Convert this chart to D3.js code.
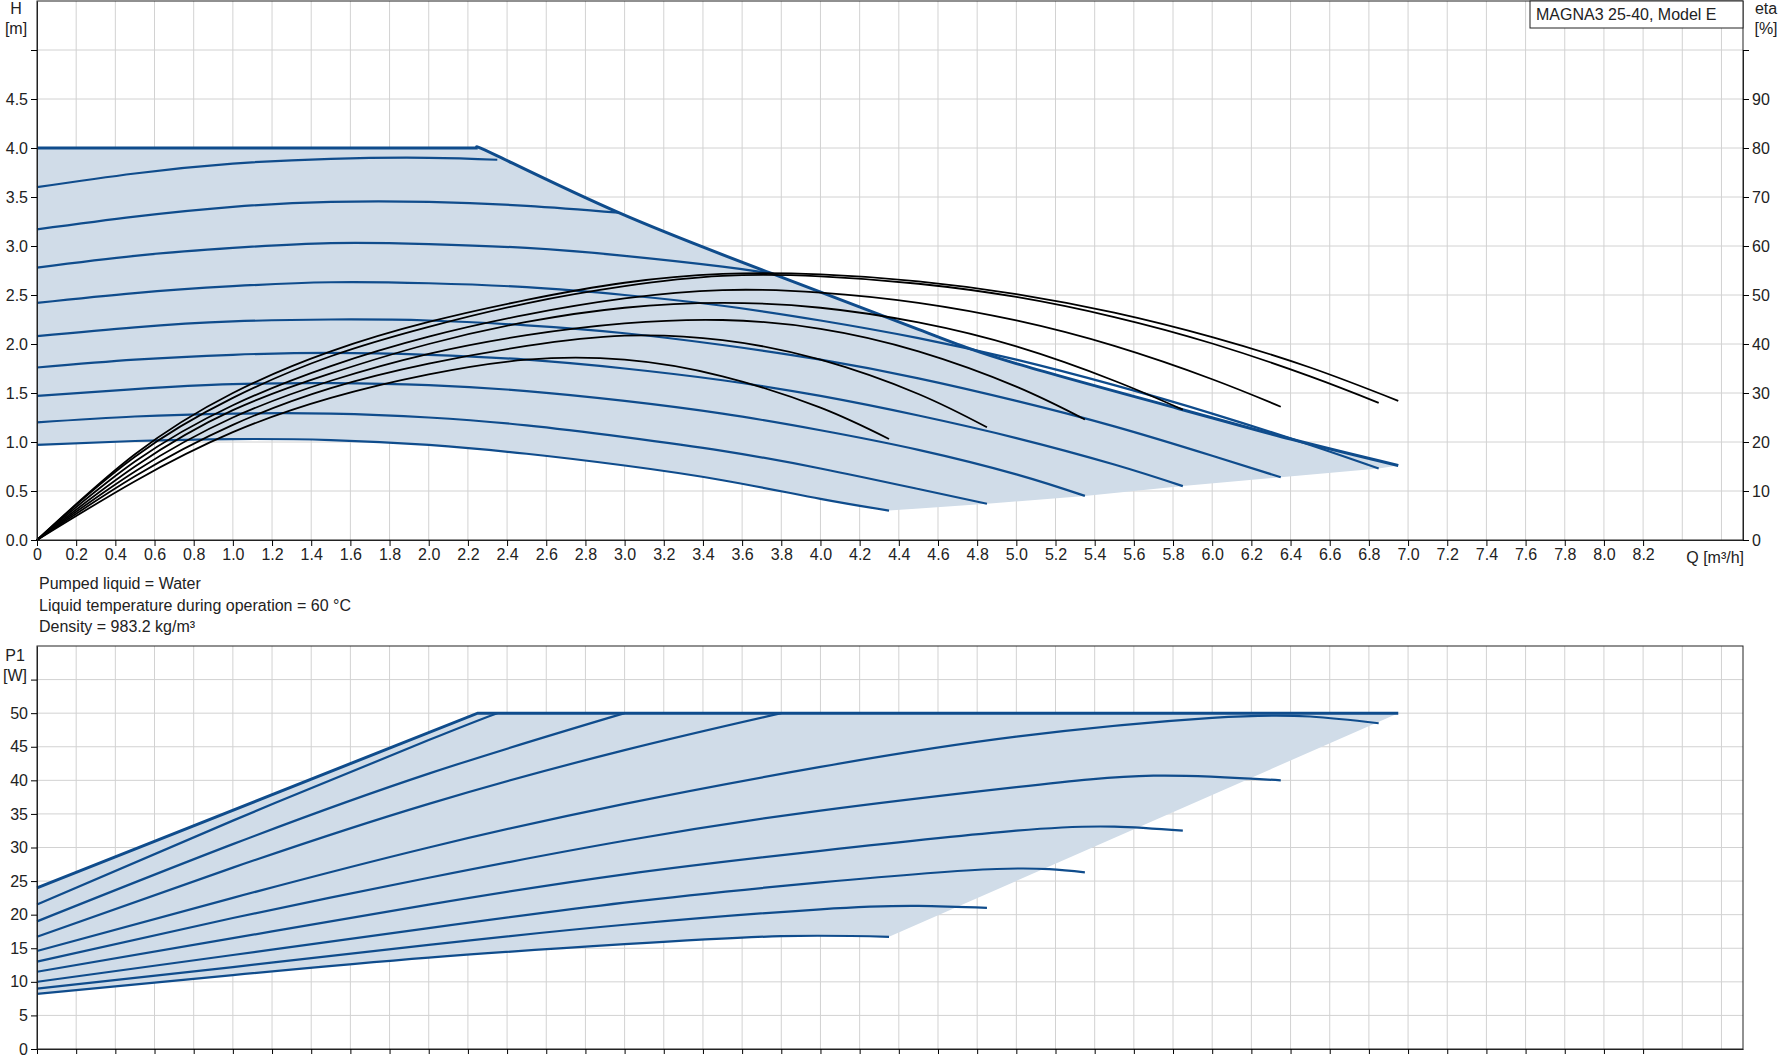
<!DOCTYPE html>
<html><head><meta charset="utf-8">
<script src="https://cdn.jsdelivr.net/npm/d3@7"></script>
<style>body{margin:0;background:#fff;font-family:Arial,"Liberation Sans",sans-serif;}</style>
</head><body><svg id="c" width="1778" height="1061"></svg>
<script>
// Q values [m3/h] and head [m] of the speed curves
var qTop = [0, 2.25], hTop = [4.0, 4.0];
var speedQ = [
  [0,0.5,1,1.5,2,2.35],
  [0,0.5,1,1.5,2,2.5,2.97],
  [0,0.5,1,1.5,2,2.5,3,3.5,3.75],
  [0,0.5,1,1.5,2,2.5,3,3.5,4,4.5,5,5.5,6,6.5,6.85],
  [0,0.5,1,1.5,2,2.5,3,3.5,4,4.5,5,5.5,6,6.35],
  [0,0.5,1,1.5,2,2.5,3,3.5,4,4.5,5,5.5,5.85],
  [0,0.5,1,1.5,2,2.5,3,3.5,4,4.5,5,5.35],
  [0,0.5,1,1.5,2,2.5,3,3.5,4,4.5,4.85],
  [0,0.5,1,1.5,2,2.5,3,3.5,4,4.35]
];
var speedH = [
  [3.6,3.74,3.84,3.89,3.9,3.88],
  [3.17,3.3,3.4,3.45,3.45,3.41,3.34],
  [2.78,2.9,2.98,3.03,3.02,2.98,2.9,2.79,2.72],
  [2.42,2.52,2.59,2.63,2.62,2.58,2.5,2.39,2.24,2.06,1.84,1.58,1.29,0.97,0.73],
  [2.08,2.17,2.23,2.25,2.24,2.19,2.11,1.99,1.84,1.65,1.42,1.16,0.86,0.64],
  [1.76,1.84,1.89,1.91,1.89,1.84,1.75,1.63,1.47,1.27,1.04,0.77,0.55],
  [1.47,1.54,1.59,1.6,1.58,1.52,1.42,1.29,1.12,0.92,0.67,0.45],
  [1.2,1.26,1.29,1.29,1.25,1.17,1.05,0.91,0.73,0.52,0.37],
  [0.97,1.01,1.03,1.02,0.97,0.88,0.76,0.61,0.42,0.30]
];
// max-power limit line
var envQ = [2.25,2.35,2.97,3.75,4.5,5.0,5.83,6.4,6.95];
var envH = [4.0,3.92,3.34,2.72,2.15,1.8,1.34,1.03,0.76];
// efficiency curves [%]
var etaQ = [
  [0,0.5,1,1.5,2,2.5,3,3.5,4,4.35],
  [0,0.5,1,1.5,2,2.5,3,3.5,4,4.5,4.85],
  [0,0.5,1,1.5,2,2.5,3,3.5,4,4.5,5,5.35],
  [0,0.5,1,1.5,2,2.5,3,3.5,4,4.5,5,5.5,5.85],
  [0,0.5,1,1.5,2,2.5,3,3.5,4,4.5,5,5.5,6,6.35],
  [0,0.5,1,1.5,2,2.5,3,3.5,4,4.5,5,5.5,6,6.5,6.85],
  [0,0.5,1,1.5,2,2.5,3,3.5,4,4.5,5,5.5,6,6.5,6.95]
];
var etaV = [
  [0,12,22,29,33.8,36.8,36.8,33.4,27,20.6],
  [0,13,23.5,31,36,39.6,41.7,40.8,36.8,29.8,23],
  [0,14,25,32.5,38,41.8,44.2,44.9,43.1,38.5,31.3,24.6],
  [0,15,26.5,34,40,44.5,47.4,48.4,47.4,44.4,39.5,32.5,26.6],
  [0,16,27.5,35.5,41.5,46,49.3,51,50.5,48.4,44.8,39.6,32.8,27.2],
  [0,17,29,37.5,43.5,48.3,51.8,53.9,53.8,52.3,49.6,45.5,40.1,33.4,28],
  [0,17.5,30,38.5,44.5,49,52.5,54.3,54.2,52.8,50.2,46.4,41.4,35.2,28.4]
];
// power P1 [W]
var pTopQ = [0,2.25,6.95], pTopV = [24,50,50];
var powQ = [
  [0,1,2,2.35],
  [0,1,2,3],
  [0,1,2,3,3.8],
  [0,1,2,3,4,5,6,6.5,6.85],
  [0,1,2,3,4,5,5.7,6.35],
  [0,1,2,3,4,5,5.5,5.85],
  [0,1,2,3,4,4.9,5.35],
  [0,1,2,3,4,4.5,4.85],
  [0,1,2,3,3.8,4.35]
];
var powV = [
  [21.5,34,46,50],
  [19,30.5,41,50],
  [16.7,27,36.5,44.5,50],
  [14.6,22.5,30,36.5,42,46.5,49.3,49.5,48.5],
  [13,19.5,25.5,31,35.5,39,40.7,40],
  [11.5,16.5,21.5,26,29.5,32.5,33.1,32.5],
  [10,14,18,21.8,24.8,26.8,26.3],
  [9,12.2,15.5,18.5,20.8,21.3,21],
  [8.2,11,13.6,15.6,16.8,16.7]
];
var xTicks = d3.range(0, 8.21, 0.2);
var hTicks = [0,0.5,1,1.5,2,2.5,3,3.5,4,4.5,5];
var etaTicks = [0,10,20,30,40,50,60,70,80,90,100];
var pTicks = [0,5,10,15,20,25,30,35,40,45,50,55];
var notes = ["Pumped liquid = Water","Liquid temperature during operation = 60 °C","Density = 983.2 kg/m³"];

var blue = "#0f4c8c", fill = "#d0dce8", grid = "#d2d2d2";
var svg = d3.select("#c");
var L = 37, R = 1743;
var x = d3.scaleLinear().domain([0, 8.71]).range([L, R]);
var yH = d3.scaleLinear().domain([0, 5.5]).range([540, 1]);
var yP = d3.scaleLinear().domain([0, 60]).range([1049, 646]);
var font = "Arial, 'Liberation Sans', sans-serif";

function frame(y, yt, top, bottom) {
  var g = svg.append("g");
  g.selectAll(".vg").data(xTicks.slice(1).concat([8.4,8.6])).enter().append("line")
    .attr("x1", d => x(d)).attr("x2", d => x(d)).attr("y1", top).attr("y2", bottom)
    .attr("stroke", grid).attr("stroke-width", 1);
  g.selectAll(".hg").data(yt.slice(1)).enter().append("line")
    .attr("x1", L).attr("x2", R).attr("y1", d => y(d)).attr("y2", d => y(d))
    .attr("stroke", grid).attr("stroke-width", 1);
  g.append("rect").attr("x", L).attr("y", top).attr("width", R - L).attr("height", bottom - top)
    .attr("fill", "none").attr("stroke", "#222").attr("stroke-width", 1);
}
frame(yH, hTicks, 1, 540);
frame(yP, pTicks, 646, 1049);

var line = (ys) => d3.line().x(d => x(d[0])).y(d => ys(d[1])).curve(d3.curveNatural);
var straight = (ys) => d3.line().x(d => x(d[0])).y(d => ys(d[1]));
var zip = (a, b) => a.map((v, i) => [v, b[i]]);

// H fill area
var last = speedQ.length - 1;
var areaPts = zip(qTop, hTop).concat(zip(envQ, envH).slice(1));
var lowEnds = [8,7,6,5,4,3].map(i => [speedQ[i][speedQ[i].length-1], speedH[i][speedH[i].length-1]]);
var poly = lowEnds.slice().reverse().map(d => [x(d[0]), yH(d[1])]);
var bc = line(yH)(zip(speedQ[last], speedH[last]).reverse()).slice(1);
svg.append("path").attr("d", straight(yH)(areaPts) + "L" + poly.map(p => p.join(",")).join("L") + "L" + bc + "Z")
  .attr("fill", fill).attr("stroke", "none");

speedQ.forEach((q, i) => {
  svg.append("path").attr("d", line(yH)(zip(q, speedH[i]))).attr("fill", "none")
    .attr("stroke", blue).attr("stroke-width", 2.2);
});
svg.append("path").attr("d", straight(yH)(zip(qTop, hTop))).attr("fill", "none").attr("stroke", blue).attr("stroke-width", 3);
svg.append("path").attr("d", line(yH)(zip(envQ, envH))).attr("fill", "none").attr("stroke", blue).attr("stroke-width", 3);

// eta on right scale (100 % = 5 m)
var yE = d3.scaleLinear().domain([0, 100]).range([yH(0), yH(5)]);
etaQ.forEach((q, i) => {
  svg.append("path").attr("d", line(yE)(zip(q, etaV[i]))).attr("fill", "none")
    .attr("stroke", "#000").attr("stroke-width", 1.8);
});

// P fill area
var pTopPts = zip(pTopQ, pTopV);
var pLow = zip(powQ[8], powV[8]).reverse();
svg.append("path").attr("d", straight(yP)(pTopPts) + "L" + line(yP)(pLow).slice(1) + "Z")
  .attr("fill", fill).attr("stroke", "none");
powQ.forEach((q, i) => {
  svg.append("path").attr("d", line(yP)(zip(q, powV[i]))).attr("fill", "none")
    .attr("stroke", blue).attr("stroke-width", 2.2);
});
svg.append("path").attr("d", straight(yP)(pTopPts)).attr("fill", "none")
  .attr("stroke", blue).attr("stroke-width", 3);

// axes
var fmt1 = d3.format(".1f");
var ax = svg.append("g").attr("transform", "translate(0,540)")
  .call(d3.axisBottom(x).tickValues(xTicks).tickSize(6).tickSizeOuter(0).tickFormat(d => d === 0 ? "0" : fmt1(d)));
ax.append("text").attr("x", x(8.4) + 4).attr("y", 23).attr("fill", "#222").attr("text-anchor", "start").text("Q [m³/h]");
svg.append("g").attr("transform", "translate(0,1049)")
  .call(d3.axisBottom(x).tickValues(xTicks).tickSize(5).tickSizeOuter(0).tickFormat(""));
svg.append("g").attr("transform", "translate(" + L + ",0)")
  .call(d3.axisLeft(yH).tickValues(hTicks).tickSize(6).tickSizeOuter(0).tickFormat(d => d === 5 ? "" : fmt1(d)));
svg.append("g").attr("transform", "translate(" + R + ",0)")
  .call(d3.axisRight(yE).tickValues(etaTicks).tickSize(6).tickSizeOuter(0).tickFormat(d => d === 100 ? "" : d));
svg.append("g").attr("transform", "translate(" + L + ",0)")
  .call(d3.axisLeft(yP).tickValues(pTicks).tickSize(6).tickSizeOuter(0).tickFormat(d => d === 55 ? "" : d));
svg.selectAll(".tick text").attr("font-size", 16).attr("font-family", font).attr("fill", "#222");
svg.selectAll(".domain").attr("stroke", "#222");
ax.selectAll("text").attr("font-size", 16).attr("font-family", font);

function label(t, xx, yy, anchor) {
  svg.append("text").attr("x", xx).attr("y", yy).attr("text-anchor", anchor || "middle")
    .attr("font-size", 16).attr("font-family", font).attr("fill", "#222").text(t);
}
label("H", 16, 14); label("[m]", 16, 34);
label("eta", 1766, 14); label("[%]", 1766, 34);
label("P1", 15, 661); label("[W]", 15, 681);
notes.forEach((t, i) => label(t, 39, 589 + i * 21.5, "start"));

svg.append("rect").attr("x", 1530).attr("y", 1).attr("width", 213).attr("height", 27)
  .attr("fill", "#fff").attr("stroke", "#222");
label("MAGNA3 25-40, Model E", 1536, 20, "start");
</script></body></html>
